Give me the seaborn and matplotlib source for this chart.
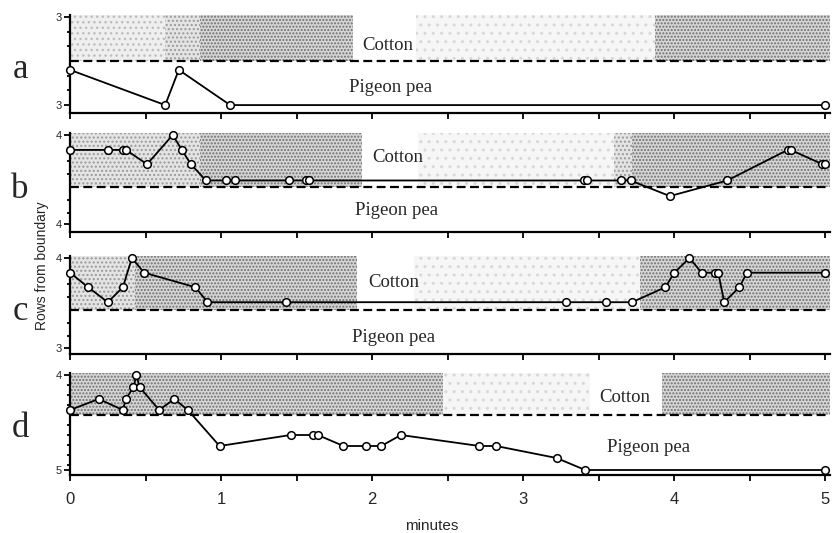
import numpy as np
import pandas as pd
import matplotlib
matplotlib.use("Agg")
import matplotlib.pyplot as plt
import seaborn as sns

# ---- data: time (minutes) and position (rows from the cotton / pigeon pea boundary)
a_minutes = [0.0, 0.63, 0.72, 1.06, 5.0]
a_rows = [-0.6, -3.0, -0.6, -3.0, -3.0]

b_minutes = [0.0, 0.25, 0.35, 0.37, 0.51, 0.68, 0.74, 0.80, 0.90, 1.03, 1.09, 1.45,
             1.56, 1.58, 3.40, 3.42, 3.65, 3.71, 3.97, 4.35, 4.75, 4.77, 4.98, 5.0]
b_rows = [2.85, 2.85, 2.85, 2.85, 1.75, 4.0, 2.85, 1.75, 0.5, 0.5, 0.5, 0.5,
          0.5, 0.5, 0.5, 0.5, 0.5, 0.5, -0.7, 0.5, 2.85, 2.85, 1.75, 1.75]

c_minutes = [0.0, 0.12, 0.25, 0.35, 0.41, 0.49, 0.83, 0.91, 1.43, 3.28, 3.55, 3.72,
             3.94, 4.0, 4.10, 4.18, 4.27, 4.29, 4.33, 4.43, 4.48, 5.0]
c_rows = [2.87, 1.75, 0.6, 1.75, 4.0, 2.87, 1.75, 0.6, 0.6, 0.6, 0.6, 0.6,
          1.75, 2.87, 4.0, 2.87, 2.87, 2.87, 0.6, 1.75, 2.87, 2.87]

d_minutes = [0.0, 0.19, 0.35, 0.37, 0.42, 0.44, 0.46, 0.59, 0.69, 0.78, 0.99, 1.46,
             1.61, 1.64, 1.81, 1.96, 2.06, 2.19, 2.71, 2.82, 3.22, 3.41, 5.0]
d_rows = [0.5, 1.6, 0.5, 1.6, 2.8, 4.0, 2.8, 0.5, 1.6, 0.5, -3.1, -2.0,
          -2.0, -2.0, -3.1, -3.1, -3.1, -2.0, -3.1, -3.1, -4.3, -5.5, -5.5]

panel_letters = ["a", "b", "c", "d"]
top_tick_labels = ["3", "4", "4", "4"]
bottom_tick_labels = ["3", "4", "3", "5"]
region_labels = ["Cotton", "Pigeon pea"]
x_tick_labels = ["0", "1", "2", "3", "4", "5"]

# ---- styling
sns.set_style("white")
plt.rcParams["font.family"] = ["Liberation Sans", "DejaVu Sans"]
plt.rcParams["hatch.linewidth"] = 1.0

W, H = 836, 533
fig = plt.figure(figsize=(W / 100, H / 100), dpi=100)

LEFT_PX, RIGHT_PX = 70, 830
XMAX = 5.03

# per panel layout: axes top/bottom (px), y-limits, tick positions, label spots
panels = [
    dict(t=a_minutes, r=a_rows, top=15, bot=113, ylim=(-3.54, 3.14),
         yt=(3.0, -3.0), minor=[2, 1, -1, -2],
         cotton=(2.10, 1.09), pea=(2.12, -1.77), letter_base=78,
         shade=[(0, 0.63, "light"), (0.63, 0.86, "medium"), (0.86, 1.87, "dark"),
                (2.29, 3.87, "faint"), (3.87, XMAX, "dark")]),
    dict(t=b_minutes, r=b_rows, top=133, bot=232, ylim=(-3.46, 4.15),
         yt=(4.0, -2.85), minor=[3, 2, 1, -1, -2],
         cotton=(2.17, 2.23), pea=(2.16, -1.77), letter_base=198,
         shade=[(0, 0.86, "medium"), (0.86, 1.93, "dark"), (2.30, 3.60, "faint"),
                (3.60, 3.72, "medium"), (3.72, XMAX, "dark")]),
    dict(t=c_minutes, r=c_rows, top=256, bot=354, ylim=(-3.38, 4.15),
         yt=(4.0, -2.92), minor=[3, 2, 1, -1, -2],
         cotton=(2.14, 2.15), pea=(2.14, -2.08), letter_base=320,
         shade=[(0, 0.43, "medium"), (0.43, 1.90, "dark"), (2.28, 3.77, "faint"),
                (3.77, XMAX, "dark")]),
    dict(t=d_minutes, r=d_rows, top=373, bot=475, ylim=(-6.0, 4.2),
         yt=(4.0, -5.5), minor=[3, 2, 1, -1, -2, -3, -4, -5],
         cotton=(3.67, 1.8), pea=(3.83, -3.2), letter_base=437,
         shade=[(0, 2.47, "dark"), (2.47, 3.44, "faint"), (3.92, XMAX, "dark")]),
]

tones = {
    "dark": dict(facecolor="#d6d6d6", edgecolor="#6e6e6e", hatch="....."),
    "medium": dict(facecolor="#e4e4e4", edgecolor="#9a9a9a", hatch="...."),
    "light": dict(facecolor="#efefef", edgecolor="#bdbdbd", hatch="..."),
    "faint": dict(facecolor="#f6f6f6", edgecolor="#d8d8d8", hatch=".."),
}

serif = ["Liberation Serif", "DejaVu Serif"]

for i, p in enumerate(panels):
    ax = fig.add_axes([LEFT_PX / W, 1 - p["bot"] / H,
                       (RIGHT_PX - LEFT_PX) / W, (p["bot"] - p["top"]) / H])
    ymin, ymax = p["ylim"]

    # cotton side shading, between the boundary and the top of the panel
    for x0, x1, tone in p["shade"]:
        ax.fill_between([x0, x1], 0, ymax, linewidth=0, zorder=0, **tones[tone])

    # boundary between the two crops
    ax.axhline(0, color="black", linestyle=(0, (4, 2)), linewidth=1.6, zorder=1)

    df = pd.DataFrame({"minutes": p["t"], "rows": p["r"]})
    sns.lineplot(data=df, x="minutes", y="rows", ax=ax, estimator=None, sort=False,
                 color="black", linewidth=1.3, marker="o", markersize=5.5,
                 markerfacecolor="white", markeredgecolor="black",
                 markeredgewidth=1.1, clip_on=False, zorder=3)

    ax.set_xlim(0, XMAX)
    ax.set_ylim(ymin, ymax)
    ax.set_xlabel("")
    ax.set_ylabel("")

    for side in ("top", "right"):
        ax.spines[side].set_visible(False)
    for side in ("left", "bottom"):
        ax.spines[side].set_linewidth(1.6)
        ax.spines[side].set_color("black")

    ax.set_xticks(range(6))
    ax.set_xticks(np.arange(0.5, 5.0, 1.0), minor=True)
    ax.set_yticks(list(p["yt"]))
    ax.set_yticklabels([top_tick_labels[i], bottom_tick_labels[i]])
    ax.set_yticks(p["minor"], minor=True)
    ax.tick_params(axis="both", which="both", direction="out", color="black",
                   width=1.3, bottom=True, left=True)
    ax.tick_params(axis="x", which="both", length=4)
    ax.tick_params(axis="y", which="major", length=4, labelsize=8, pad=2)
    ax.tick_params(axis="y", which="minor", length=2.5)
    if i == len(panels) - 1:
        ax.set_xticklabels(x_tick_labels)
        ax.tick_params(axis="x", labelsize=12, pad=8)
    else:
        ax.set_xticklabels([])

    ax.text(*p["cotton"], region_labels[0], ha="center", va="center",
            fontsize=13.5, family=serif, zorder=4)
    ax.text(*p["pea"], region_labels[1], ha="center", va="center",
            fontsize=13.5, family=serif, zorder=4)

    fig.text(20 / W, 1 - p["letter_base"] / H, panel_letters[i], ha="center",
             va="baseline", fontsize=25, family=serif)

fig.text(42 / W, 1 - 266 / H, "Rows from boundary", rotation=90,
         ha="center", va="center", fontsize=10)
fig.text(432 / W, 1 - 526 / H, "minutes", ha="center", va="center", fontsize=11)

fig.savefig("out.png", dpi=100, facecolor="white")
